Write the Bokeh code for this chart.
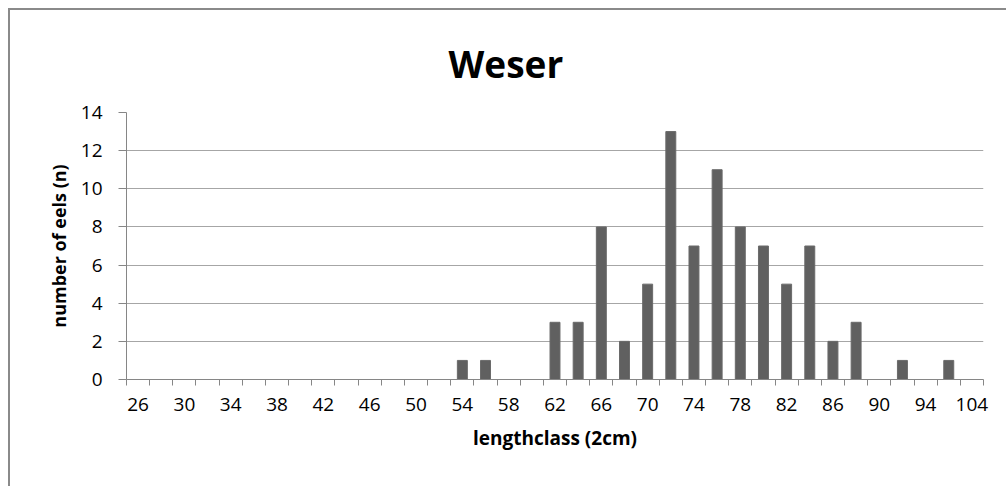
from bokeh.plotting import figure
from bokeh.models import FixedTicker, ColumnDataSource, Range1d
from bokeh.embed import file_html
from bokeh.resources import INLINE

# ---- data ----
lengthclass = [26, 28, 30, 32, 34, 36, 38, 40, 42, 44, 46, 48, 50, 52, 54, 56, 58, 60,
               62, 64, 66, 68, 70, 72, 74, 76, 78, 80, 82, 84, 86, 88, 90, 92, 94, 98, 104]
eels = [0, 0, 0, 0, 0, 0, 0, 0, 0, 0, 0, 0, 0, 0, 1, 1, 0, 0,
        3, 3, 8, 2, 5, 13, 7, 11, 8, 7, 5, 7, 2, 3, 0, 1, 0, 1, 0]
y_ticks = [0, 2, 4, 6, 8, 10, 12, 14]
title_text = "Weser"
x_title = "lengthclass (2cm)"
y_title = "number of eels (n)"

FONT = "Open Sans"
n = len(lengthclass)
pos = list(range(n))
src = ColumnDataSource(dict(x=pos, n=eels, cls=[str(c) for c in lengthclass]))

p = figure(width=998, height=478, output_backend="svg", toolbar_location=None,
           x_range=Range1d(-0.5, n - 0.5), y_range=Range1d(y_ticks[0], y_ticks[-1]),
           min_border_left=116, min_border_right=25, min_border_top=102,
           min_border_bottom=109, title=title_text)
p.styles = {"margin-top": "8px", "margin-left": "8px",
            "border-top": "2px solid #8a8a8a", "border-left": "2px solid #8a8a8a"}
p.outline_line_color = None
p.background_fill_color = "white"
p.border_fill_color = "white"

p.vbar(x="x", top="n", width=0.43, source=src, fill_color="#606060",
       line_color="#6a6a6a", line_width=1)

# title
p.title.text_font = FONT
p.title.text_font_size = "37px"
p.title.text_font_style = "bold"
p.title.text_color = "black"
p.title.align = "left"
p.title.offset = 322
p.title.standoff = 47

# x axis
xa = p.xaxis[0]
xa.ticker = FixedTicker(ticks=pos[::2], minor_ticks=[i - 0.5 for i in range(n + 1)])
xa.major_label_overrides = {i: str(lengthclass[i]) for i in pos[::2]}
xa.major_tick_line_color = None
xa.major_tick_out = 6
xa.minor_tick_line_color = "#868686"
xa.minor_tick_out = 6
xa.minor_tick_in = 0
xa.axis_line_color = "#868686"
xa.major_label_text_font = FONT
xa.major_label_text_font_size = "19px"
xa.major_label_text_color = "black"
xa.major_label_standoff = 12
xa.axis_label = x_title
xa.axis_label_text_font = FONT
xa.axis_label_text_font_size = "19px"
xa.axis_label_text_font_style = "bold"
xa.axis_label_text_color = "black"
xa.axis_label_standoff = 11

# y axis
ya = p.yaxis[0]
ya.ticker = FixedTicker(ticks=y_ticks, minor_ticks=[])
ya.major_tick_line_color = "#868686"
ya.major_tick_out = 8
ya.major_tick_in = 0
ya.axis_line_color = "#868686"
ya.major_label_text_font = FONT
ya.major_label_text_font_size = "19px"
ya.major_label_text_color = "black"
ya.major_label_standoff = 16
ya.axis_label = y_title
ya.axis_label_text_font = FONT
ya.axis_label_text_font_size = "18px"
ya.axis_label_text_font_style = "bold"
ya.axis_label_text_color = "black"
ya.axis_label_standoff = 7

p.xgrid.visible = False
p.ygrid.grid_line_color = "#a6a6a6"
p.ygrid.grid_line_width = 1

open("out.html", "w").write(file_html(p, INLINE))
